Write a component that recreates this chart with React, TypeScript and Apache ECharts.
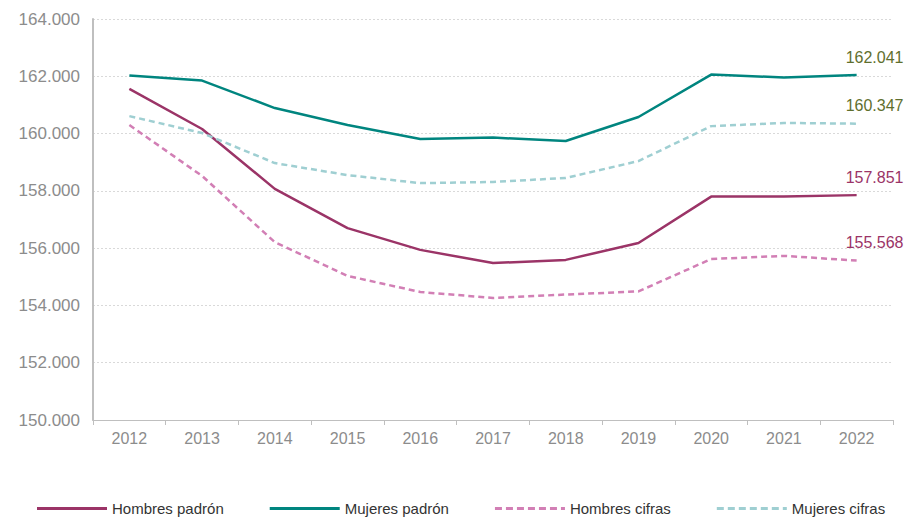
import React, { useEffect, useRef } from "react";
import * as echarts from "echarts";

const years = ["2012", "2013", "2014", "2015", "2016", "2017", "2018", "2019", "2020", "2021", "2022"];
const hombresPadron = [161560, 160160, 158070, 156700, 155940, 155480, 155590, 156180, 157800, 157800, 157851];
const mujeresPadron = [162030, 161850, 160890, 160300, 159810, 159860, 159740, 160580, 162060, 161960, 162041];
const hombresCifras = [160300, 158520, 156210, 155030, 154470, 154260, 154380, 154490, 155620, 155730, 155568];
const mujeresCifras = [160610, 160020, 158970, 158550, 158270, 158310, 158450, 159040, 160260, 160370, 160347];

const fmt = (v: number) => {
  const s = Math.round(v).toString();
  return s.replace(/\B(?=(\d{3})+(?!\d))/g, ".");
};

export default function App() {
  const ref = useRef<HTMLDivElement>(null);
  useEffect(() => {
    if (!ref.current) return;
    const chart = echarts.init(ref.current, null, { renderer: "svg" });
    const font = "Liberation Sans, Arial, sans-serif";
    const mk = (name: string, data: number[], color: string, dashed: boolean, labelColor: string) => ({
      name,
      type: "line",
      data: data.map((v, i) =>
        i === data.length - 1
          ? {
              value: v,
              label: {
                show: true,
                position: [-11, -18],
                align: "left",
                verticalAlign: "middle",
                color: labelColor,
                fontSize: 16,
                fontFamily: font,
                formatter: (p: any) => fmt(p.value),
              },
            }
          : v
      ),
      symbol: "circle",
      symbolSize: 0,
      showSymbol: true,
      lineStyle: { color, width: 2.5, type: dashed ? [6, 4] : "solid" },
      itemStyle: { color },
      smooth: false,
    });
    const dash = "path://M0,0h7v3h-7zM11,0h7v3h-7zM22,0h7v3h-7zM33,0h7v3h-7zM44,0h7v3h-7zM55,0h7v3h-7zM66,0h4v3h-4z";
    chart.setOption({
      animation: false,
      textStyle: { fontFamily: font },
      grid: { left: 93, right: 12, top: 19, bottom: 99 },
      legend: {
        top: 496,
        left: 32,
        itemWidth: 70,
        itemHeight: 3,
        itemGap: 46,
        textStyle: { fontSize: 15, color: "#333", fontFamily: font },
        data: [
          { name: "Hombres padrón", icon: "path://M0,0h70v3h-70z" },
          { name: "Mujeres padrón", icon: "path://M0,0h70v3h-70z" },
          { name: "Hombres cifras", icon: dash },
          { name: "Mujeres cifras", icon: dash },
        ],
      },
      xAxis: {
        type: "category",
        data: years,
        boundaryGap: true,
        axisLine: { lineStyle: { color: "#bfbfbf", width: 1 } },
        axisTick: { show: true, length: 5, lineStyle: { color: "#bfbfbf" } },
        axisLabel: { color: "#8c8c8c", fontSize: 16, margin: 10, fontFamily: font },
      },
      yAxis: {
        type: "value",
        min: 150000,
        max: 164000,
        interval: 2000,
        axisLine: { show: true, lineStyle: { color: "#bfbfbf", width: 2 } },
        axisTick: { show: false },
        splitLine: { lineStyle: { color: "#d9d9d9", type: [2, 2] } },
        axisLabel: { color: "#8c8c8c", fontSize: 17, margin: 13, fontFamily: font, formatter: (v: number) => fmt(v) },
      },
      series: [
        mk("Hombres padrón", hombresPadron, "#9b3467", false, "#9b3467"),
        mk("Mujeres padrón", mujeresPadron, "#00857f", false, "#5f6f2e"),
        mk("Hombres cifras", hombresCifras, "#d27fb5", true, "#9b3467"),
        mk("Mujeres cifras", mujeresCifras, "#9fcfd2", true, "#5f6f2e"),
      ],
    });
    return () => chart.dispose();
  }, []);
  return <div ref={ref} style={{ width: 905, height: 519, position: "absolute", left: 0, top: 0 }} />;
}
